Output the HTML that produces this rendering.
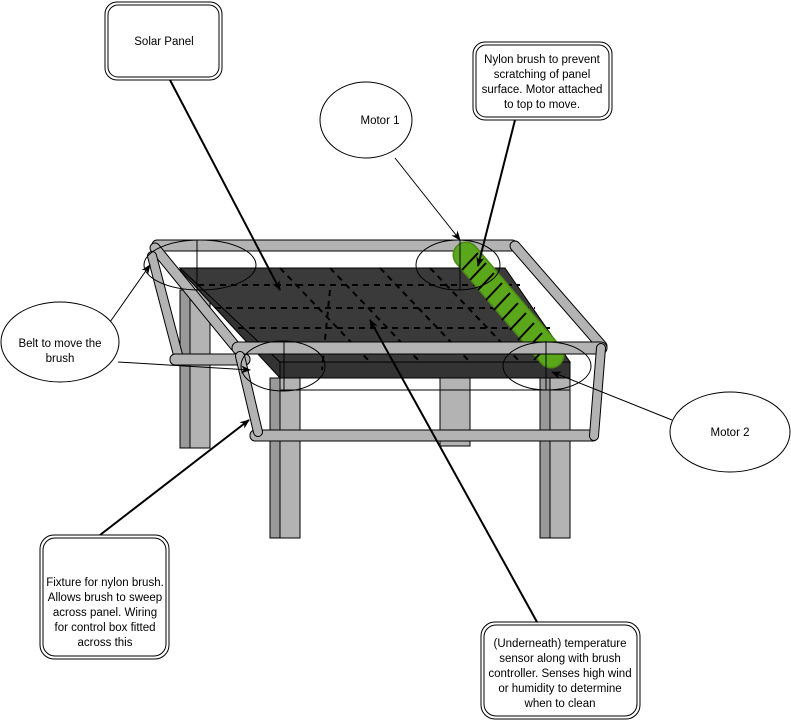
<!DOCTYPE html>
<html><head><style>
body{margin:0;background:#fff;}
svg{display:block;font-family:"Liberation Sans",sans-serif;}
</style></head><body>
<svg width="791" height="721" viewBox="0 0 791 721" xmlns="http://www.w3.org/2000/svg">
<defs>
<marker id="a" markerWidth="10" markerHeight="10" refX="9" refY="5" orient="auto" markerUnits="userSpaceOnUse"><path d="M0,1 L10,5 L0,9 L3,5 Z" fill="#000"/></marker>
</defs>
<rect x="180" y="290" width="30" height="158" fill="#b3b3b3" stroke="#000"/>
<rect x="180" y="290" width="10" height="158" fill="#999" stroke="#000"/>
<rect x="440" y="378" width="30" height="68" fill="#b3b3b3" stroke="#000"/>
<rect x="152" y="240" width="365" height="11" rx="5" fill="#b3b3b3" stroke="#000"/>
<line x1="515" y1="246" x2="602" y2="346" stroke="#000" stroke-width="11" stroke-linecap="round"/>
<line x1="515" y1="246" x2="602" y2="346" stroke="#b3b3b3" stroke-width="9" stroke-linecap="round"/>
<line x1="155" y1="248" x2="235" y2="346" stroke="#000" stroke-width="11" stroke-linecap="round"/>
<line x1="155" y1="248" x2="235" y2="346" stroke="#b3b3b3" stroke-width="9" stroke-linecap="round"/>
<line x1="152" y1="256" x2="178" y2="355" stroke="#000" stroke-width="10" stroke-linecap="round"/>
<line x1="152" y1="256" x2="178" y2="355" stroke="#b3b3b3" stroke-width="8" stroke-linecap="round"/>
<rect x="170" y="354" width="80" height="11" rx="5" fill="#b3b3b3" stroke="#000"/>
<polygon points="180,268 280,362 280,378 180,270" fill="#333" stroke="#000"/>
<polygon points="180,268 505,268 570,362 280,362" fill="#3a3a3a" stroke="#000"/>
<rect x="280" y="362" width="290" height="16" fill="#333" stroke="#000"/>
<g stroke="#000" stroke-width="2" stroke-dasharray="6,5" fill="none">
<line x1="198" y1="285" x2="520" y2="285"/>
<line x1="215" y1="308" x2="535" y2="308"/>
<line x1="238" y1="328" x2="550" y2="328"/>
<line x1="280" y1="268" x2="370" y2="362"/>
<line x1="330" y1="268" x2="420" y2="362"/>
<line x1="380" y1="268" x2="470" y2="362"/>
<line x1="430" y1="268" x2="520" y2="362"/>
<line x1="330" y1="290" x2="322" y2="370"/>
</g>
<rect x="270" y="378" width="30" height="160" fill="#b3b3b3" stroke="#000"/>
<rect x="270" y="378" width="10" height="160" fill="#999" stroke="#000"/>
<rect x="540" y="378" width="30" height="160" fill="#b3b3b3" stroke="#000"/>
<rect x="540" y="378" width="10" height="160" fill="#999" stroke="#000"/>
<rect x="250" y="430" width="348" height="11" rx="5" fill="#b3b3b3" stroke="#000"/>
<line x1="466" y1="255" x2="551" y2="355" stroke="#4d8a12" stroke-width="27" stroke-linecap="round"/>
<line x1="466" y1="255" x2="551" y2="355" stroke="#5aa719" stroke-width="24" stroke-linecap="round"/>
<g stroke="#000" stroke-width="2">
<line x1="462" y1="270" x2="478" y2="253"/><line x1="470" y1="280" x2="486" y2="263"/><line x1="478" y1="290" x2="494" y2="273"/>
<line x1="486" y1="300" x2="502" y2="283"/><line x1="494" y1="310" x2="510" y2="293"/><line x1="502" y1="320" x2="518" y2="303"/>
<line x1="510" y1="330" x2="526" y2="313"/><line x1="518" y1="340" x2="534" y2="323"/><line x1="526" y1="350" x2="542" y2="333"/>
<line x1="534" y1="360" x2="550" y2="343"/>
</g>
<rect x="232" y="342" width="375" height="12" rx="6" fill="#b3b3b3" stroke="#000"/>
<line x1="240" y1="356" x2="258" y2="432" stroke="#000" stroke-width="10" stroke-linecap="round"/>
<line x1="240" y1="356" x2="258" y2="432" stroke="#b3b3b3" stroke-width="8" stroke-linecap="round"/>
<line x1="601" y1="348" x2="594" y2="436" stroke="#000" stroke-width="10" stroke-linecap="round"/>
<line x1="601" y1="348" x2="594" y2="436" stroke="#b3b3b3" stroke-width="8" stroke-linecap="round"/>
<g fill="none" stroke="#000" stroke-width="1">
<ellipse cx="200" cy="265" rx="56" ry="25"/>
<ellipse cx="458" cy="265" rx="42" ry="25"/>
<ellipse cx="283" cy="366" rx="42" ry="25"/>
<ellipse cx="547" cy="366" rx="44" ry="24"/>
<line x1="197" y1="240" x2="197" y2="290"/>
<line x1="460" y1="240" x2="460" y2="290"/>
<line x1="284" y1="341" x2="284" y2="390"/>
<line x1="546" y1="341" x2="546" y2="390"/>
<line x1="280" y1="390" x2="570" y2="390"/>
</g>
<g stroke="#000" fill="none">
<line x1="170" y1="80" x2="280" y2="290" stroke-width="2" marker-end="url(#a)"/>
<line x1="515" y1="120" x2="478" y2="266" stroke-width="2" marker-end="url(#a)"/>
<line x1="395" y1="158" x2="460" y2="240" marker-end="url(#a)"/>
<line x1="110" y1="322" x2="150" y2="265" marker-end="url(#a)"/>
<line x1="118" y1="362" x2="250" y2="370" marker-end="url(#a)"/>
<line x1="672" y1="420" x2="552" y2="372" marker-end="url(#a)"/>
<line x1="100" y1="535" x2="249" y2="420" stroke-width="2" marker-end="url(#a)"/>
<line x1="537" y1="622" x2="370" y2="320" stroke-width="2" marker-end="url(#a)"/>
</g>
<g fill="#fff" stroke="#000">
<rect x="105" y="2" width="117" height="78" rx="12"/>
<rect x="108" y="5" width="111" height="72" rx="10"/>
<rect x="473" y="42" width="139" height="78" rx="12"/>
<rect x="476" y="45" width="133" height="72" rx="10"/>
<ellipse cx="366" cy="120" rx="46" ry="38"/>
<ellipse cx="60" cy="342" rx="59" ry="40"/>
<ellipse cx="730" cy="432" rx="60" ry="40"/>
<rect x="40" y="535" width="129" height="124" rx="14"/>
<rect x="43" y="538" width="123" height="118" rx="12"/>
<rect x="481" y="622" width="159" height="97" rx="14"/>
<rect x="484" y="625" width="153" height="91" rx="12"/>
</g>
<g font-size="11.5" fill="#000" text-anchor="middle">
<text x="164" y="45">Solar Panel</text>
<text x="542" y="63">Nylon brush to prevent</text>
<text x="542" y="78">scratching of panel</text>
<text x="542" y="93">surface. Motor attached</text>
<text x="542" y="108">to top to move.</text>
<text x="380" y="124">Motor 1</text>
<text x="60" y="347">Belt to move the</text>
<text x="60" y="362">brush</text>
<text x="730" y="436">Motor 2</text>
<text x="105" y="586">Fixture for nylon brush.</text>
<text x="105" y="601">Allows brush to sweep</text>
<text x="105" y="616">across panel. Wiring</text>
<text x="105" y="631">for control box fitted</text>
<text x="105" y="646">across this</text>
<text x="560" y="647">(Underneath) temperature</text>
<text x="560" y="662">sensor along with brush</text>
<text x="560" y="677">controller. Senses high wind</text>
<text x="560" y="692">or humidity to determine</text>
<text x="560" y="707">when to clean</text>
</g>
</svg>
</body></html>
